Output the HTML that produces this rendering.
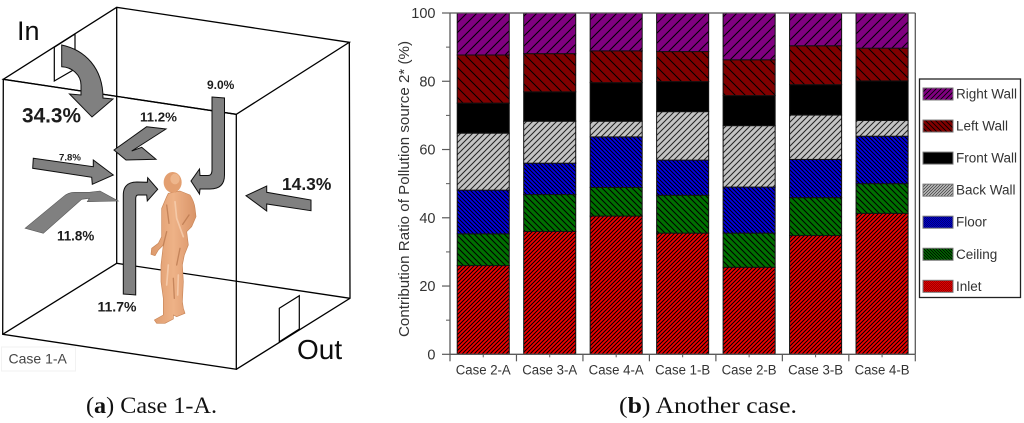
<!DOCTYPE html>
<html lang="en">
<head>
<meta charset="utf-8">
<title>Case 1-A and contribution ratio chart</title>
<style>
html,body{margin:0;padding:0;background:#fff;}
svg{display:block;}
text{font-family:"Liberation Sans",Arial,sans-serif;}
.arrow{fill:#808080;stroke:#111;stroke-width:1;stroke-linejoin:miter;}
.edge{stroke:#000;stroke-width:1.3;fill:none;}
.pct{font-weight:bold;fill:#1a1a1a;}
.cap{font-family:"Liberation Serif",serif;font-size:23px;fill:#111;}
</style>
</head>
<body>
<svg id="fig" xmlns="http://www.w3.org/2000/svg" width="1024" height="423" viewBox="0 0 1024 423">
<defs>
  <pattern id="h-right" patternUnits="userSpaceOnUse" width="10" height="10"><rect width="10" height="10" fill="#800080"/><path d="M-2,12 L12,-2 M-2,2 L2,-2 M8,12 L12,8" stroke="#000" stroke-width="1"/></pattern>
  <pattern id="h-left" patternUnits="userSpaceOnUse" width="10" height="10"><rect width="10" height="10" fill="#800000"/><path d="M-2,-2 L12,12 M8,-2 L12,2 M-2,8 L2,12" stroke="#000" stroke-width="1"/></pattern>
  <pattern id="h-front" patternUnits="userSpaceOnUse" width="6" height="6"><rect width="6" height="6" fill="#000"/></pattern>
  <pattern id="h-back" patternUnits="userSpaceOnUse" width="6" height="6"><rect width="6" height="6" fill="#c4c4c4"/><path d="M-2,8 L8,-2 M-2,2 L2,-2 M4,8 L8,4" stroke="#222" stroke-width="1"/></pattern>
  <pattern id="h-floor" patternUnits="userSpaceOnUse" width="4" height="4"><rect width="4" height="4" fill="#0000e6"/><path d="M-1,-1 L5,5 M3,-1 L5,1 M-1,3 L1,5" stroke="#000" stroke-width="1"/></pattern>
  <pattern id="h-ceiling" patternUnits="userSpaceOnUse" width="6" height="6"><rect width="6" height="6" fill="#007000"/><path d="M-2,-2 L8,8 M4,-2 L8,2 M-2,4 L2,8" stroke="#000" stroke-width="1"/></pattern>
  <pattern id="h-inlet" patternUnits="userSpaceOnUse" width="4" height="4"><rect width="4" height="4" fill="#f00000"/><path d="M-1,5 L5,-1 M-1,1 L1,-1 M3,5 L5,3" stroke="#000" stroke-width="1"/></pattern>

  <pattern id="l-right" patternUnits="userSpaceOnUse" width="5" height="5"><rect width="5" height="5" fill="#800080"/><path d="M-1,6 L6,-1 M-1,1 L1,-1 M4,6 L6,4" stroke="#000" stroke-width=".8"/></pattern>
  <pattern id="l-left" patternUnits="userSpaceOnUse" width="5" height="5"><rect width="5" height="5" fill="#800000"/><path d="M-1,-1 L6,6 M4,-1 L6,1 M-1,4 L1,6" stroke="#000" stroke-width=".8"/></pattern>
  <pattern id="l-front" patternUnits="userSpaceOnUse" width="4" height="4"><rect width="4" height="4" fill="#000"/></pattern>
  <pattern id="l-back" patternUnits="userSpaceOnUse" width="3" height="3"><rect width="3" height="3" fill="#c4c4c4"/><path d="M-1,4 L4,-1 M-1,1 L1,-1 M2,4 L4,2" stroke="#444" stroke-width=".8"/></pattern>
  <pattern id="l-floor" patternUnits="userSpaceOnUse" width="2" height="2"><rect width="2" height="2" fill="#0000c8"/><path d="M-1,-1 L3,3 M1,-1 L3,1 M-1,1 L1,3" stroke="#000" stroke-width=".4"/></pattern>
  <pattern id="l-ceiling" patternUnits="userSpaceOnUse" width="3" height="3"><rect width="3" height="3" fill="#007000"/><path d="M-1,-1 L4,4 M2,-1 L4,1 M-1,2 L1,4" stroke="#000" stroke-width=".8"/></pattern>
  <pattern id="l-inlet" patternUnits="userSpaceOnUse" width="2" height="2"><rect width="2" height="2" fill="#e00000"/><path d="M-1,3 L3,-1 M-1,1 L1,-1 M1,3 L3,1" stroke="#300" stroke-width=".4"/></pattern>

  <linearGradient id="skin" x1="0" y1="0" x2="1" y2="0">
    <stop offset="0" stop-color="#dd9a6c"/>
    <stop offset=".5" stop-color="#eeb287"/>
    <stop offset="1" stop-color="#d99468"/>
  </linearGradient>
  <filter id="soft" x="-5%" y="-5%" width="110%" height="110%"><feGaussianBlur stdDeviation="0.35"/></filter>
</defs>

<!-- Room diagram -->
<g id="room-diagram" filter="url(#soft)">
  <polyline class="edge" points="116.7,7.3 116.7,263.3 350,298.3"/>
  <polyline class="edge" points="116.7,263.3 2.7,334.3"/>
  <polygon fill="#fff" stroke="#000" stroke-width="1.2" points="54.3,47.3 54.3,81 75,69 75,34"/>
  <polygon class="edge" points="3.3,79.3 116.7,7.3 349.3,42.3 236.3,114.3"/>
  <polygon fill="#fff" stroke="#000" stroke-width="1.2" points="279.3,308.3 299.3,295.7 299.3,329 279.3,341.7"/>
  <polyline class="edge" points="349.3,42.3 350,298.3 236.3,369.3"/>
  <polygon class="edge" points="3.3,79.3 236.3,114.3 236.3,369.3 2.7,334.3"/>

  <path class="arrow" d="M61.7,45 C85,50 103,68 103,98 L113,99 L92,117 L69.5,94 L81,95 L81,85 C81,75 72,67 61.7,66.7 Z"/>
  <path class="arrow" d="M212,97 L224.5,98 L224.5,175 Q224.5,189 210,189 L200,189 L199.5,194 L191,181 L199.5,169 L200,175.5 L208,175.5 Q212,175.5 212,170 Z"/>
  <polygon class="arrow" points="146.7,126.7 166,129 131.7,151 141.7,147.3 156,159.3 126,160 114,150"/>
  <polygon class="arrow" points="33.3,158.3 93.3,166.7 93.3,160 113.3,175 92.3,184.3 91.7,177.3 32.7,168.3"/>
  <path class="arrow" style="stroke:#555;stroke-width:.6" d="M25,228.3 L63.3,196.7 Q68,192.3 75,192.3 L89.3,192.3 L100,191 L118.3,201 L87.3,201.7 L89.3,198.3 L81.7,199.3 L43.3,233.3 Z"/>
  <path class="arrow" d="M123.3,294 L123.3,195 Q123.3,182 137,182 L147.3,182.3 L147.7,177.7 L157.7,189.3 L147.3,201 L146.7,195 L138,195 Q135.7,195 135.7,199 L135.7,295 Z"/>
  <polygon class="arrow" points="246,195.7 266.7,186 266.7,192.3 311,200 311,210.7 266.7,204 266.7,211"/>

  <g transform="translate(145,165) scale(0.3333)">
    <path fill="url(#skin)" stroke="#c98658" stroke-width="2" stroke-linejoin="round" d="M105,78 L135,90 Q148,110 150,130 L153,155 L140,185 L125,200 L130,240 L118,270 L112,300 L115,350 L112,410 L115,430 L120,445 L95,455 L85,450 L85,462 L60,475 L35,475 L28,465 L55,450 L55,400 L48,350 L48,300 L55,240 L40,255 L30,272 L18,268 L20,250 L40,235 L50,215 L50,130 L65,95 L70,85 Z"/>
    <ellipse cx="83" cy="52" rx="27" ry="31" fill="#e39f70"/>
    <ellipse cx="90" cy="42" rx="14" ry="16" fill="#eeb68c"/>
    <path fill="none" stroke="#f7d0b0" stroke-width="5" opacity=".8" stroke-linecap="round" d="M90,110 L95,160 L115,215 M70,300 L65,360 M100,330 L98,390"/>
    <path fill="none" stroke="#b5734a" stroke-width="4" opacity=".7" stroke-linecap="round" d="M65,120 L72,175 M113,178 L132,150 M105,250 L95,300 M85,340 L88,400 M55,240 L65,200"/>
  </g>

  <text x="17" y="40" font-size="27" fill="#111">In</text>
  <text x="297" y="359" font-size="28" fill="#111">Out</text>
  <text class="pct" x="22" y="122.7" font-size="20.8">34.3%</text>
  <text class="pct" x="140" y="121.7" font-size="13.3">11.2%</text>
  <text class="pct" x="59" y="160.3" font-size="9.6" fill="#333">7.8%</text>
  <text class="pct" x="207" y="89" font-size="12">9.0%</text>
  <text class="pct" x="282" y="190" font-size="17.4">14.3%</text>
  <text class="pct" x="57" y="240.7" font-size="13.4">11.8%</text>
  <text class="pct" x="97.5" y="311.7" font-size="14">11.7%</text>
  <rect x="1.5" y="347" width="74" height="24" fill="#fff" stroke="#f2f2f2"/>
  <text x="8.5" y="363.3" font-size="14" fill="#444">Case 1-A</text>
</g>

<text class="cap" x="86" y="413" textLength="131" lengthAdjust="spacingAndGlyphs">(<tspan font-weight="bold">a</tspan>) Case 1-A.</text>
<text class="cap" x="619" y="413" textLength="178" lengthAdjust="spacingAndGlyphs">(<tspan font-weight="bold">b</tspan>) Another case.</text>

<!-- Chart -->
<g id="chart">
  <g id="bars"></g>
  <g id="axes"></g>
  <text x="409" y="337" font-size="15" fill="#333" textLength="296" lengthAdjust="spacingAndGlyphs" transform="rotate(-90 409 337)">Contribution Ratio of Pollution source 2* (%)</text>
  <g id="legend">
    <rect x="919.5" y="79" width="101" height="218.5" fill="#fff" stroke="#222" stroke-width="1.3"/>
  </g>
</g>
</svg>

<script>
const categories = ["Case 2-A", "Case 3-A", "Case 4-A", "Case 1-B", "Case 2-B", "Case 3-B", "Case 4-B"];
const inlet = [26, 36, 40.5, 35.5, 25.5, 34.8, 41.3];
const ceiling = [9.3, 10.8, 8.4, 11.1, 10, 11.1, 8.7];
const floorShare = [12.8, 9.2, 14.8, 10.3, 13.5, 11.2, 13.9];
const backWall = [16.7, 12.3, 4.6, 14.2, 18, 13, 4.6];
const frontWall = [8.8, 8.6, 11.3, 8.8, 8.8, 8.9, 11.6];
const leftWall = [14.1, 11.2, 9.3, 8.8, 10.5, 11.4, 9.6];
const rightWall = [12.3, 11.9, 11.1, 11.2, 13.7, 9.6, 10.3];
const yMajorTicks = [0, 20, 40, 60, 80, 100];
const yMinorTicks = [10, 30, 50, 70, 90];
const legendOrder = ["Right Wall", "Left Wall", "Front Wall", "Back Wall", "Floor", "Ceiling", "Inlet"];

const stackOrder = [
  ["Inlet", inlet, "inlet"],
  ["Ceiling", ceiling, "ceiling"],
  ["Floor", floorShare, "floor"],
  ["Back Wall", backWall, "back"],
  ["Front Wall", frontWall, "front"],
  ["Left Wall", leftWall, "left"],
  ["Right Wall", rightWall, "right"]
];

const NS = "http://www.w3.org/2000/svg";
const plotLeft = 450, plotRight = 915.3, plotTop = 13, plotBottom = 354.3;
const yMax = 100;
const bandWidth = (plotRight - plotLeft) / categories.length;
const barWidth = bandWidth * 0.783;

function yScale(v) { return plotBottom - (v / yMax) * (plotBottom - plotTop); }
function xBand(i) { return plotLeft + i * bandWidth; }
function xCenter(i) { return xBand(i) + bandWidth / 2; }
function slug(s) { return s.toLowerCase().replace(/[^a-z0-9]+/g, "-"); }

function make(tag, attrs, parent) {
  const el = document.createElementNS(NS, tag);
  for (const k in attrs) el.setAttribute(k, attrs[k]);
  parent.appendChild(el);
  return el;
}

const barsGroup = document.getElementById("bars");
const axesGroup = document.getElementById("axes");
const legendGroup = document.getElementById("legend");
const axisColor = "#5a5a5a";
const textColor = "#333";

categories.forEach(function (cat, i) {
  let base = 0;
  stackOrder.forEach(function (series) {
    const v = series[1][i];
    const y1 = yScale(base + v);
    const y0 = yScale(base);
    const r = make("rect", {
      x: xCenter(i) - barWidth / 2, y: y1, width: barWidth, height: y0 - y1,
      fill: "url(#h-" + series[2] + ")", stroke: "#111", "stroke-width": 1
    }, barsGroup);
    
    
    base += v;
  });
});

function axisLine(x1, y1, x2, y2, name, width) {
  const l = make("line", { x1: x1, y1: y1, x2: x2, y2: y2, stroke: axisColor, "stroke-width": width }, axesGroup);
  
  
}

axisLine(plotLeft, plotTop, plotLeft, plotBottom, "y-axis-line", 1.3);
axisLine(plotRight, plotTop, plotRight, plotBottom, "right-axis-line", 1.3);
axisLine(plotLeft, plotTop, plotRight, plotTop, "top-axis-line", 1.3);
axisLine(plotLeft, plotBottom, plotRight, plotBottom, "x-axis-line", 1.3);

yMajorTicks.forEach(function (t) {
  axisLine(plotLeft - 8, yScale(t), plotLeft, yScale(t), "y-tick-" + t, 1.2);
  const label = make("text", { x: 435.5, y: yScale(t) + 5, "font-size": 14.5, "text-anchor": "end", fill: textColor }, axesGroup);
  
  
  label.textContent = t;
});
yMinorTicks.forEach(function (t) {
  axisLine(plotLeft - 4, yScale(t), plotLeft, yScale(t), "y-minor-tick-" + t, 1);
});

categories.forEach(function (cat, i) {
  axisLine(xBand(i), plotBottom, xBand(i), plotBottom + 7, "x-tick-boundary-" + i, 1.2);
  axisLine(xCenter(i), plotBottom, xCenter(i), plotBottom + 3, "x-tick-" + slug(cat), 1);
  const label = make("text", { x: xCenter(i), y: 374.5, "font-size": 13.5, "text-anchor": "middle", fill: textColor, textLength: 55, lengthAdjust: "spacingAndGlyphs" }, axesGroup);
  
  
  label.textContent = cat;
});
axisLine(plotRight, plotBottom, plotRight, plotBottom + 7, "x-tick-boundary-end", 1.2);

legendOrder.forEach(function (name, i) {
  const key = stackOrder.filter(function (s) { return s[0] === name; })[0][2];
  const cy = 94 + i * 32.05;
  const sw = make("rect", { x: 923, y: cy - 6, width: 30, height: 12, fill: "url(#l-" + key + ")", stroke: "#777", "stroke-width": 1 }, legendGroup);
  
  
  const tx = make("text", { x: 956, y: cy + 4.5, "font-size": 13.5, fill: textColor }, legendGroup);
  
  
  tx.textContent = name;
});
</script>
</body>
</html>
